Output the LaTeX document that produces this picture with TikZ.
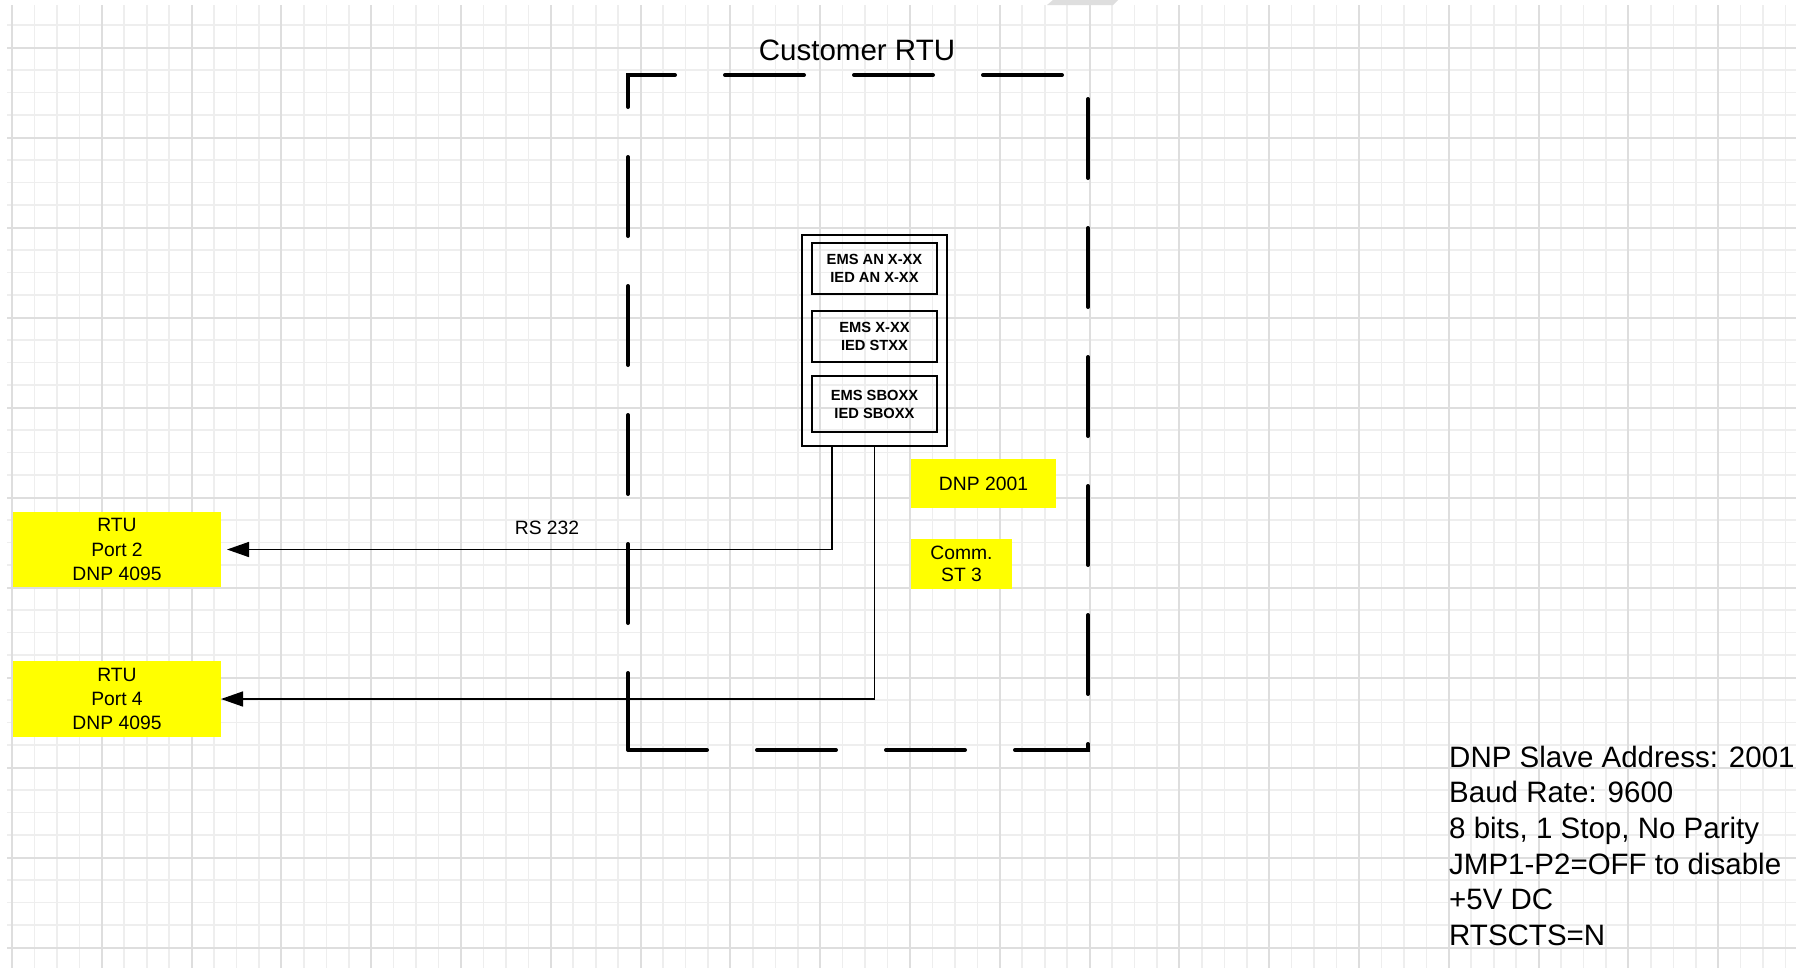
\documentclass[tikz,border=0pt]{standalone}
\usepackage{fontspec}
\setmainfont{Liberation Sans}
\usetikzlibrary{arrows.meta,positioning,calc}
\definecolor{GridMinor}{RGB}{238,238,238}
\definecolor{GridMajor}{RGB}{222,222,222}
\definecolor{NoteYellow}{RGB}{255,255,0}

\begin{document}
\begin{tikzpicture}[
    x=1pt, y=-1pt,
    minorline/.style={draw=GridMinor, line width=1.6pt},
    majorline/.style={draw=GridMajor, line width=2pt},
    rtubox/.style={dash pattern=on 79pt off 50pt, line width=4pt, line cap=round},
    devbox/.style={draw, line width=2pt, inner sep=0pt, outer sep=0pt, minimum width=145pt, minimum height=211pt},
    chbox/.style={draw, line width=2pt, inner sep=0pt, outer sep=0pt, minimum width=125pt, align=center, font=\bfseries\fontsize{14.7}{18}\selectfont},
    tag/.style={fill=NoteYellow, inner sep=0pt, outer sep=0pt, align=center, font=\fontsize{19.3}{24.3}\selectfont},
    lbl/.style={inner sep=0pt, font=\fontsize{19.3}{23}\selectfont},
    big/.style={inner sep=0pt, align=left, font=\fontsize{29.5}{35.7}\selectfont},
    wire/.style={line width=1.5pt},
    arrow/.style={wire, -{Triangle[length=22pt, width=15pt]}}
  ]
    \fill[white] (0,0) rectangle (1796,970);
    \useasboundingbox (0,0) rectangle (1796,970);
    \foreach \k in {0,...,79}
      \draw[minorline] ({12+22.45*\k},5) -- ({12+22.45*\k},968);
    \foreach \j in {0,...,41}
      \draw[minorline] (7,{25+22.5*\j}) -- (1796,{25+22.5*\j});
    \foreach \k in {0,4,...,76}
      \draw[majorline] ({12+22.45*\k},5) -- ({12+22.45*\k},968);
    \foreach \j in {1,5,...,41}
      \draw[majorline] (7,{25+22.5*\j}) -- (1796,{25+22.5*\j});
    \fill[GridMajor] (1047,5) -- (1053,0) -- (1118,0) -- (1113,5) -- cycle;

    \draw[rtubox] (628,750) -- (1088,750) -- (1088,75) -- (628,75) -- cycle;
    \node[big, anchor=base] (title) at (857,60) {Customer RTU};

    \node[devbox] (dev) at (874.5,340.5) {};
    \node[chbox, minimum height=51pt, below=8pt of dev.north] (ch1) {EMS AN X-XX\\IED AN X-XX};
    \node[chbox, minimum height=51pt, below=17pt of ch1] (ch2) {EMS X-XX\\IED STXX};
    \node[chbox, minimum height=56pt, below=14pt of ch2] (ch3) {EMS SBOXX\\IED SBOXX};

    \node[tag, minimum width=145pt, minimum height=49pt] (dnp) at (983.5,483.5) {DNP 2001};
    \node[tag, minimum width=101pt, minimum height=50pt, font=\fontsize{19.3}{22}\selectfont] (comm) at (961.5,564) {Comm.\\ST 3};

    \node[tag, minimum width=208pt, minimum height=75pt] (port2) at (117,549.5) {RTU\\Port 2\\DNP 4095};
    \node[tag, minimum width=208pt, minimum height=76pt, below=74pt of port2] (port4) {RTU\\Port 4\\DNP 4095};

    \draw[arrow, shorten >=6pt] ($(dev.south west)+(30,0)$) |- (port2.east);
    \draw[arrow] (dev.south) |- (port4.east);
    \node[lbl] (rs) at (547,528) {RS 232};

    \node[big, anchor=north west] (notes) at (1449,745.5) {DNP Slave Address: 2001\\Baud Rate: 9600\\8 bits, 1 Stop, No Parity\\JMP1-P2=OFF to disable\\+5V DC\\RTSCTS=N};
\end{tikzpicture}
\end{document}
